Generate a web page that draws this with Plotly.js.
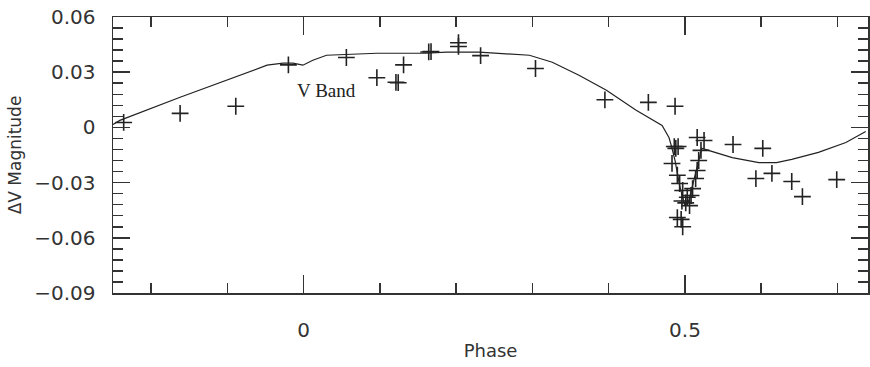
<!DOCTYPE html>
<html>
<head>
<meta charset="utf-8">
<script src="https://cdn.plot.ly/plotly-3.0.1.min.js"></script>
<style>html,body{margin:0;padding:0;background:#fff;}#chart{width:870px;height:367px;}</style>
</head>
<body>
<div id="chart"></div>
<script>
// Observed V-band points (phase, delta V magnitude)
const obsPhase = [-0.236, -0.162, -0.089, -0.020, 0.056, 0.096, 0.121, 0.124, 0.131, 0.164, 0.167, 0.203, 0.203, 0.232, 0.304, 0.395, 0.452, 0.487,
  0.486, 0.491, 0.488, 0.483, 0.490, 0.493, 0.497, 0.503, 0.496, 0.506, 0.490, 0.495, 0.497, 0.501, 0.508, 0.510, 0.514, 0.516, 0.518, 0.521, 0.516, 0.525,
  0.563, 0.602, 0.593, 0.614, 0.640, 0.654, 0.699];
const obsMag = [0.0027, 0.0076, 0.0115, 0.034, 0.038, 0.027, 0.0245, 0.0243, 0.034, 0.041, 0.0412, 0.046, 0.0440, 0.039, 0.032, 0.015, 0.0136, 0.0115,
  -0.0104, -0.0104, -0.0114, -0.0196, -0.026, -0.0305, -0.0343, -0.038, -0.040, -0.0425, -0.049, -0.050, -0.054, -0.041, -0.037, -0.0333, -0.0278, -0.0234, -0.018, -0.0125, -0.0055, -0.0071,
  -0.0093, -0.0114, -0.0278, -0.025, -0.0294, -0.0376, -0.0284];

// Model light curve
const modelPhase = [-0.25, -0.241, -0.162, -0.093, -0.048, -0.027, -0.014, -0.001, 0.012, 0.030, 0.096, 0.161, 0.187, 0.230, 0.260, 0.296, 0.326, 0.361, 0.397, 0.436, 0.470, 0.479, 0.482, 0.487, 0.493, 0.500, 0.505, 0.512, 0.518, 0.522, 0.562, 0.597, 0.620, 0.640, 0.675, 0.711, 0.737];
const modelMag = [0.0016, 0.0038, 0.0164, 0.0267, 0.0338, 0.0349, 0.0349, 0.0338, 0.0365, 0.0392, 0.0403, 0.0403, 0.0409, 0.0409, 0.0403, 0.0392, 0.0354, 0.0283, 0.0202, 0.0093, 0.0011, -0.0055, -0.0098, -0.018, -0.0316, -0.0425, -0.0398, -0.0289, -0.018, -0.0114, -0.0164, -0.0191, -0.0191, -0.0174, -0.0136, -0.0082, -0.0022];

const bandLabel = 'V Band';
const xTitle = 'Phase';
const yTitle = '\u0394V Magnitude';

const ink = '#222';
const axisCol = '#333';

const traces = [
  {x: modelPhase, y: modelMag, type: 'scatter', mode: 'lines', line: {color: ink, width: 1.2}, hoverinfo: 'skip'},
  {x: obsPhase, y: obsMag, type: 'scatter', mode: 'markers',
   marker: {symbol: 'cross-thin', size: 12, line: {color: ink, width: 1.6}, color: ink}}
];

const tickFont = {family: 'DejaVu Sans', size: 20, color: '#333'};

const layout = {
  width: 870, height: 367,
  margin: {l: 113, r: 2, t: 17, b: 74},
  paper_bgcolor: '#fff', plot_bgcolor: '#fff',
  showlegend: false,
  xaxis: {
    range: [-0.25, 0.74], tick0: 0, dtick: 0.5,
    ticks: 'inside', ticklen: 18, tickwidth: 1.5, tickcolor: axisCol,
    minor: {dtick: 0.1, ticks: 'inside', ticklen: 10, tickwidth: 1.5, tickcolor: axisCol, showgrid: false},
    showline: true, linecolor: axisCol, linewidth: 1.5, mirror: 'ticks',
    showgrid: false, zeroline: false, tickfont: tickFont, ticklabelstandoff: 18,
    title: {text: xTitle, font: {family: 'DejaVu Sans', size: 18, color: '#333'}, standoff: 4}
  },
  yaxis: {
    range: [-0.09, 0.06], tick0: 0, dtick: 0.03,
    ticks: 'inside', ticklen: 17, tickwidth: 1.5, tickcolor: axisCol,
    minor: {dtick: 0.006, ticks: 'inside', ticklen: 10, tickwidth: 1.5, tickcolor: axisCol, showgrid: false},
    showline: true, linecolor: axisCol, linewidth: 1.5, mirror: 'ticks',
    showgrid: false, zeroline: false, tickfont: tickFont, ticklabelstandoff: 12,
    title: {text: yTitle, font: {family: 'DejaVu Sans', size: 17, color: '#333'}, standoff: 8}
  },
  annotations: [{
    x: 0.030, y: 0.020, xref: 'x', yref: 'y', text: bandLabel, showarrow: false,
    font: {family: 'Liberation Serif', size: 19, color: ink}
  }]
};

Plotly.newPlot('chart', traces, layout, {displayModeBar: false, staticPlot: true});
</script>
</body>
</html>
